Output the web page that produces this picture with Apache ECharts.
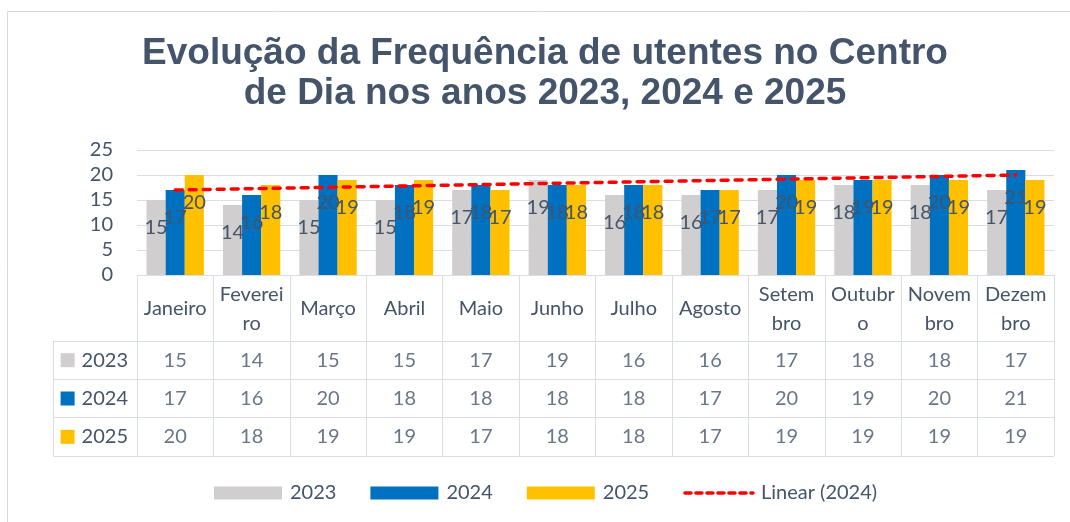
<!DOCTYPE html>
<html>
<head>
<meta charset="utf-8">
<script src="https://cdn.jsdelivr.net/npm/echarts@6/dist/echarts.min.js"></script>
<style>
  html, body { margin: 0; padding: 0; background: #fff; }
  #chart { width: 1070px; height: 522px; }
</style>
</head>
<body>
<div id="chart"></div>
<script>
// categorias e rótulos
const months = ['Janeiro', 'Fevereiro', 'Março', 'Abril', 'Maio', 'Junho', 'Julho', 'Agosto', 'Setembro', 'Outubro', 'Novembro', 'Dezembro']
const monthLabels = ['Janeiro', 'Feverei\nro', 'Março', 'Abril', 'Maio', 'Junho', 'Julho', 'Agosto', 'Setem\nbro', 'Outubr\no', 'Novem\nbro', 'Dezem\nbro']
const years = ['2023', '2024', '2025']

// valores
const v2023 = [15, 14, 15, 15, 17, 19, 16, 16, 17, 18, 18, 17]
const v2024 = [17, 16, 20, 18, 18, 18, 18, 17, 20, 19, 20, 21]
const v2025 = [20, 18, 19, 19, 17, 18, 18, 17, 19, 19, 19, 19]
// linha de tendência (Janeiro -> Dezembro)
const trend2024 = [17.0, 20.0]

const yTicks = { min: 0, max: 25, interval: 5 }

const colors = { '2023': '#D0CECE', '2024': '#0070C0', '2025': '#FFC000' }
const txt = '#44546A'
const border = '#D9DEE6'
const font = 'Lato'

let barSeries = (name, data) => ({
    name: name,
    type: 'bar',
    data: data,
    barGap: 0,
    barCategoryGap: '25%',
    itemStyle: { color: colors[name] },
    label: {
        show: true,
        position: 'insideTop',
        distance: 18,
        color: txt,
        fontFamily: font,
        fontSize: 20
    }
})

//células da tabela
let cellSeries = (name, data) => ({
    name: 't' + name,
    type: 'scatter',
    xAxisIndex: 1,
    yAxisIndex: 1,
    silent: true,
    symbol: 'circle',
    symbolSize: 1,
    itemStyle: { color: 'rgba(0,0,0,0)' },
    data: data.map((v, i) => [months[i], name, v]),
    label: {
        show: true,
        position: 'inside',
        formatter: p => p.value[2],
        color: txt,
        fontFamily: font,
        fontSize: 20
    }
})

let option = {
    animation: false,
    graphic: [{
        type: 'rect',
        shape: { x: 7.5, y: 11.5, width: 1200, height: 700 },
        style: { fill: 'none', stroke: '#D9D9D9', lineWidth: 1 },
        silent: true
    }],
    title: {
        text: 'Evolução da Frequência de utentes no Centro\nde Dia nos anos 2023, 2024 e 2025',
        left: 545,
        top: 34,
        padding: 0,
        textAlign: 'center',
        textStyle: {
            fontFamily: 'Liberation Sans',
            fontWeight: 'bold',
            fontSize: 37,
            lineHeight: 40,
            color: txt
        }
    },
    legend: {
        left: 214,
        top: 483,
        padding: 0,
        itemWidth: 68,
        itemHeight: 13,
        itemGap: 34,
        data: [
            { name: '2023', icon: 'rect' },
            { name: '2024', icon: 'rect' },
            { name: '2025', icon: 'rect' },
            {
                name: 'Linear (2024)',
                itemStyle: { opacity: 0 },
                lineStyle: { color: '#FF0000', width: 3.5, type: [6, 5], cap: 'round' }
            }
        ],
        formatter: name => '{t|' + name + '}',
        textStyle: {
            fontFamily: font, fontSize: 20, color: txt,
            rich: { t: { fontFamily: font, fontSize: 20, color: txt, padding: [0, 0, 0, 3] } }
        }
    },
    grid: [
        { left: 137, right: 16, top: 150, bottom: 247, outerBoundsMode: 'none' },
        { left: 137, right: 16, top: 341, bottom: 66, outerBoundsMode: 'none' }
    ],
    xAxis: [
        {
            type: 'category',
            gridIndex: 0,
            data: months,
            axisLine: { show: true, lineStyle: { color: border, width: 1 } },
            axisTick: { show: true, interval: 0, length: 66, lineStyle: { color: border } },
            axisLabel: {
                interval: 0,
                formatter: (v, i) => monthLabels[i],
                verticalAlign: 'middle',
                margin: 34,
                lineHeight: 29,
                color: txt,
                fontFamily: font,
                fontSize: 20
            }
        },
        {
            type: 'category',
            gridIndex: 1,
            data: months,
            axisLine: { show: false },
            axisTick: { show: false },
            axisLabel: { show: false },
            splitLine: { show: true, interval: 0, lineStyle: { color: border } }
        }
    ],
    yAxis: [
        {
            type: 'value',
            gridIndex: 0,
            min: yTicks.min,
            max: yTicks.max,
            interval: yTicks.interval,
            axisLine: { show: false },
            axisTick: { show: false },
            splitLine: { lineStyle: { color: border } },
            axisLabel: { margin: 24, color: txt, fontFamily: font, fontSize: 20 }
        },
        {
            type: 'category',
            gridIndex: 1,
            inverse: true,
            data: years,
            axisLine: { show: false },
            axisTick: { show: true, interval: 0, length: 84, lineStyle: { color: border } },
            splitLine: { show: true, interval: 0, lineStyle: { color: border } },
            axisLabel: {
                interval: 0,
                margin: 9,
                formatter: v => '{k' + v + '|}{t|' + v + '}',
                rich: {
                    k2023: { width: 14, height: 14, backgroundColor: colors['2023'] },
                    k2024: { width: 14, height: 14, backgroundColor: colors['2024'] },
                    k2025: { width: 14, height: 14, backgroundColor: colors['2025'] },
                    t: { color: txt, fontFamily: font, fontSize: 20, padding: [0, 0, 0, 7] }
                }
            }
        },
        {
            type: 'category',
            gridIndex: 1,
            position: 'left',
            offset: 84,
            inverse: true,
            data: years,
            axisLine: { show: true, lineStyle: { color: border } },
            axisTick: { show: false },
            axisLabel: { show: false }
        }
    ],
    series: [
        barSeries('2023', v2023),
        barSeries('2024', v2024),
        barSeries('2025', v2025),
        {
            name: 'Linear (2024)',
            type: 'line',
            symbol: 'none',
            z: 5,
            data: [[months[0], trend2024[0]], [months[months.length - 1], trend2024[1]]],
            lineStyle: { color: '#FF0000', width: 3.5, type: [7, 7], cap: 'round' },
            itemStyle: { color: '#FF0000' }
        },
        cellSeries('2023', v2023),
        cellSeries('2024', v2024),
        cellSeries('2025', v2025)
    ]
}

let chart = echarts.init(document.getElementById('chart'))
chart.setOption(option)
</script>
</body>
</html>
